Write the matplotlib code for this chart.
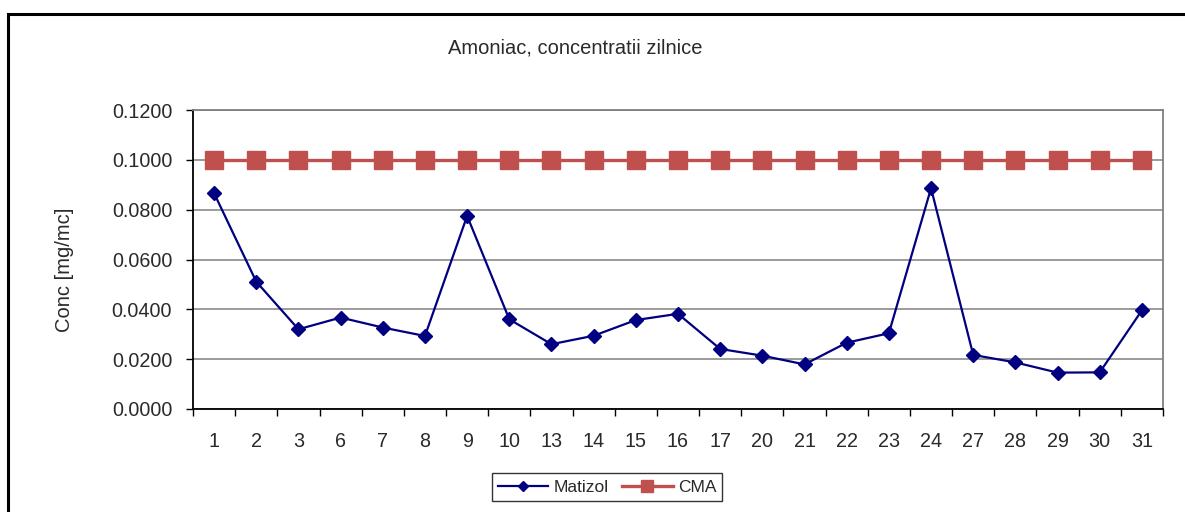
import matplotlib
matplotlib.use("Agg")
import matplotlib.pyplot as plt
from matplotlib.patches import Rectangle

plt.rcParams['font.family'] = ['Liberation Sans', 'DejaVu Sans']

days = ["1", "2", "3", "6", "7", "8", "9", "10", "13", "14", "15", "16", "17",
        "20", "21", "22", "23", "24", "27", "28", "29", "30", "31"]
matizol = [0.0866, 0.0511, 0.0320, 0.0367, 0.0327, 0.0293, 0.0775, 0.0360,
           0.0260, 0.0294, 0.0357, 0.0382, 0.0241, 0.0214, 0.0179, 0.0266,
           0.0304, 0.0886, 0.0217, 0.0187, 0.0146, 0.0147, 0.0396]
cma = [0.1] * len(days)
yticks = [0.0, 0.02, 0.04, 0.06, 0.08, 0.10, 0.12]

fig = plt.figure(figsize=(11.85, 5.12), dpi=100)
fig.patch.set_facecolor('white')

# outer chart frame (partly cropped)
fig.patches.append(Rectangle((8/1185, -0.1), 1.2, (512-14)/512 + 0.1,
                             transform=fig.transFigure, fill=False,
                             edgecolor='black', linewidth=2.2, zorder=0))

ax = fig.add_axes([193/1185, (512-409)/512, 970/1185, 299/512])
x = list(range(len(days)))

ax.plot(x, cma, color='#C0504D', linewidth=2.4, marker='s', markersize=13,
        markeredgecolor='#C0504D', label='CMA', zorder=3)
ax.plot(x, matizol, color='#000080', linewidth=1.6, marker='D', markersize=7,
        label='Matizol', zorder=4)

ax.set_xlim(-0.5, len(days) - 0.5)
ax.set_ylim(0, 0.12)
ax.set_yticks(yticks)
ax.set_yticklabels([f"{v:.4f}" for v in yticks])
ax.set_xticks(x)
ax.set_xticklabels(days)
ax.set_xticks([i - 0.5 for i in range(len(days) + 1)], minor=True)
ax.tick_params(axis='x', which='major', length=0, pad=16.5, labelsize=14.2)
ax.tick_params(axis='x', which='minor', length=5, width=1, direction='out', color='black')
ax.tick_params(axis='y', length=5, width=1, direction='out', labelsize=14.2, pad=10, color='black')
for lbl in ax.get_xticklabels() + ax.get_yticklabels():
    lbl.set_color('#2a2a2a')

ax.grid(axis='y', color='#808080', linewidth=1.1)
ax.set_axisbelow(True)
ax.spines['left'].set_color('black')
ax.spines['bottom'].set_color('black')
ax.spines['left'].set_linewidth(1.3)
ax.spines['bottom'].set_linewidth(1.3)
ax.spines['top'].set_color('#808080')
ax.spines['right'].set_color('#808080')
ax.spines['top'].set_linewidth(1.3)
ax.spines['right'].set_linewidth(1.3)

ax.set_ylabel("Conc [mg/mc]", fontsize=14.5, color='#2a2a2a')
ax.yaxis.set_label_coords((74 - 193) / 970, (409 - 270) / 299)
fig.text(575/1185, 1 - 48/512, "Amoniac, concentratii zilnice", ha='center',
         va='center', fontsize=14.5, color='#2a2a2a')

h, l = ax.get_legend_handles_labels()
leg = fig.legend(h[::-1], l[::-1], loc='center', bbox_to_anchor=(607/1185, 1 - 487/512),
                 ncol=2, frameon=True, fancybox=False, edgecolor='black',
                 fontsize=12.5, handlelength=2.9, handletextpad=0.3, columnspacing=0.8,
                 borderpad=0.35, markerscale=0.7)
leg.get_frame().set_linewidth(1.0)
for t in leg.get_texts():
    t.set_color('#2a2a2a')

fig.savefig("out.png", dpi=100)
